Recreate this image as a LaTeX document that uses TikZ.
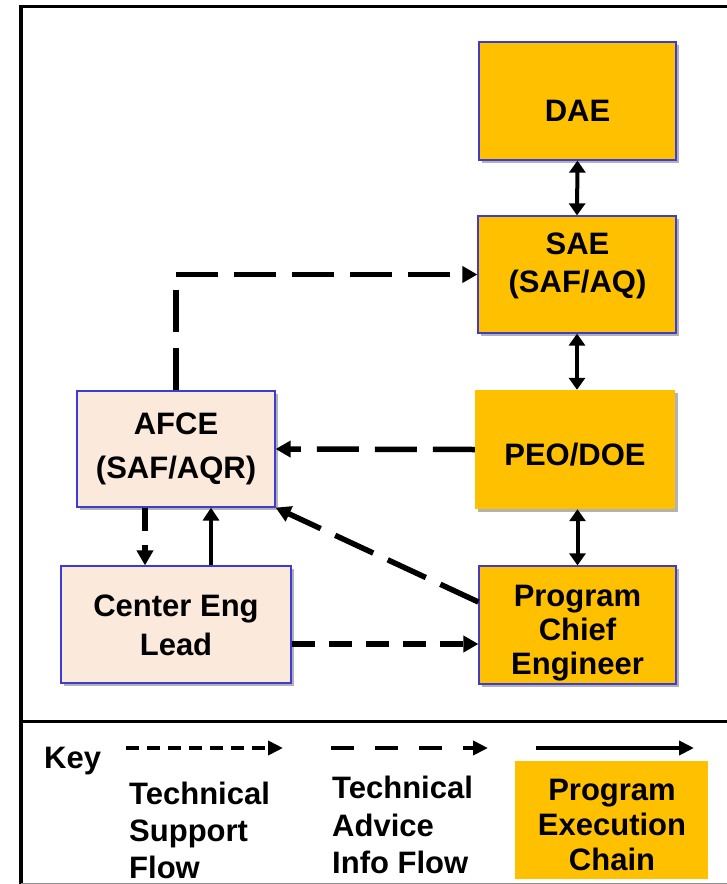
\documentclass[tikz,border=0pt]{standalone}
\usepackage{fontspec}
\setmainfont{Liberation Sans}
\usetikzlibrary{arrows.meta,shadows,calc}
\definecolor{gold}{HTML}{FFC000}
\definecolor{peach}{HTML}{FBE9DB}
\definecolor{bblue}{HTML}{3C3CD2}
\begin{document}
\begin{tikzpicture}[x=1pt,y=-1pt,
  shade box/.style={inner sep=0pt,
    drop shadow={shadow xshift=2.5pt,shadow yshift=-2.5pt,opacity=0.3,fill=black}},
  goldbox/.style={shade box,fill=gold,draw=bblue,line width=1.2pt},
  goldplain/.style={shade box,fill=gold},
  peachbox/.style={shade box,fill=peach,draw=bblue,line width=1.2pt},
  txt/.style={inner sep=0pt,anchor=north,align=center,font=\bfseries\fontsize{31}{#1}\selectfont},
  keytxt/.style={inner sep=0pt,anchor=north west,align=left,font=\bfseries\fontsize{31}{#1}\selectfont},
  solidarr/.style={line width=4pt,{Triangle[length=12pt,width=16pt]}-{Triangle[length=12pt,width=16pt]}},
  soloarr/.style={line width=4pt,-{Triangle[length=13pt,width=16pt]}},
  longdash/.style={line width=5.5pt,dash pattern=on 42pt off 16pt,-{Triangle[length=15pt,width=16pt]}},
  shortdash/.style={line width=5.5pt,dash pattern=on 23pt off 14pt,-{Triangle[length=15pt,width=16pt]}},
  keyshort/.style={line width=4pt,dash pattern=on 13pt off 8pt,-{Triangle[length=15pt,width=14pt]}},
  keylong/.style={line width=4pt,dash pattern=on 23pt off 21pt,-{Triangle[length=15pt,width=14pt]}},
  keysolid/.style={line width=4pt,-{Triangle[length=15pt,width=14pt]}}
]
\useasboundingbox (0,0) rectangle (727,884);
\clip (0,0) rectangle (727,884);
\fill[white] (0,0) rectangle (727,884);

% frame
\draw[line width=3.5pt] (21,6.5) rectangle (760,721.5);
\draw[line width=3.5pt] (21,721.5) -- (21,890);
\draw[line width=1pt,black!45] (21,883) -- (727,883);

% boxes
\node[goldbox,minimum width=197pt,minimum height=118pt] (dae) at (577.5,101) {};
\node[goldbox,minimum width=198pt,minimum height=117pt] (sae) at (577,274.5) {};
\node[goldplain,minimum width=200pt,minimum height=119pt] (peo) at (575,449.5) {};
\node[goldbox,minimum width=197pt,minimum height=118pt] (pce) at (577.5,625) {};
\node[peachbox,minimum width=198pt,minimum height=116pt] (afce) at (176,449) {};
\node[peachbox,minimum width=230pt,minimum height=117pt] (cel) at (176,624.5) {};

% box texts
\node[txt=38pt] (daet) at (577.5,100) {DAE};
\node[txt=38pt] (saet) at (577.5,233) {SAE\\(SAF/AQ)};
\node[txt=38pt] (peot) at (575,443) {PEO/DOE};
\node[txt=34pt] (pcet) at (577.5,585) {Program\\Chief\\Engineer};
\node[txt=44pt] (afcet) at (176,413) {AFCE\\(SAF/AQR)};
\node[txt=39pt] (celt) at (176,595) {Center Eng\\Lead};

% connectors
\draw[solidarr] (dae.south) -- (sae.north);
\draw[solidarr] (sae.south) -- (sae.south |- peo.north);
\draw[solidarr] (pce.north |- peo.south) -- (pce.north);
\draw[longdash] (afce.north) |- (sae.west);
\draw[longdash] (peo.west) -- (afce.east);
\draw[longdash] ($(pce.west)+(0,-23)$) -- (afce.south east);
\draw[shortdash] ([xshift=-31pt]afce.south) -- ([xshift=-31pt]afce.south |- cel.north);
\draw[soloarr] ([xshift=35pt]afce.south |- cel.north) -- ([xshift=35pt]afce.south);
\draw[shortdash] ([yshift=-19.5pt]cel.east) -- ([yshift=-19.5pt]cel.east -| pce.west);

% key
\node[keytxt=30pt] (key) at (44,747) {Key};
\coordinate (k1a) at (126,748);
\coordinate (k1b) at (283,748);
\coordinate (k2a) at (331,748);
\coordinate (k2b) at (488,748);
\coordinate (k3a) at (536,748);
\coordinate (k3b) at (694,748);
\draw[keyshort] (k1a) -- (k1b);
\draw[keylong] (k2a) -- (k2b);
\draw[keysolid] (k3a) -- (k3b);
\node[keytxt=37pt] (tsf) at (129,782) {Technical\\Support\\Flow};
\node[keytxt=37.5pt] (taif) at (332,776) {Technical\\Advice\\Info Flow};
\node[fill=gold,inner sep=0pt,minimum width=193pt,minimum height=118pt] (pec) at (611.5,820) {};
\node[txt=35pt] (pect) at (612,779) {Program\\Execution\\Chain};
\end{tikzpicture}
\end{document}
